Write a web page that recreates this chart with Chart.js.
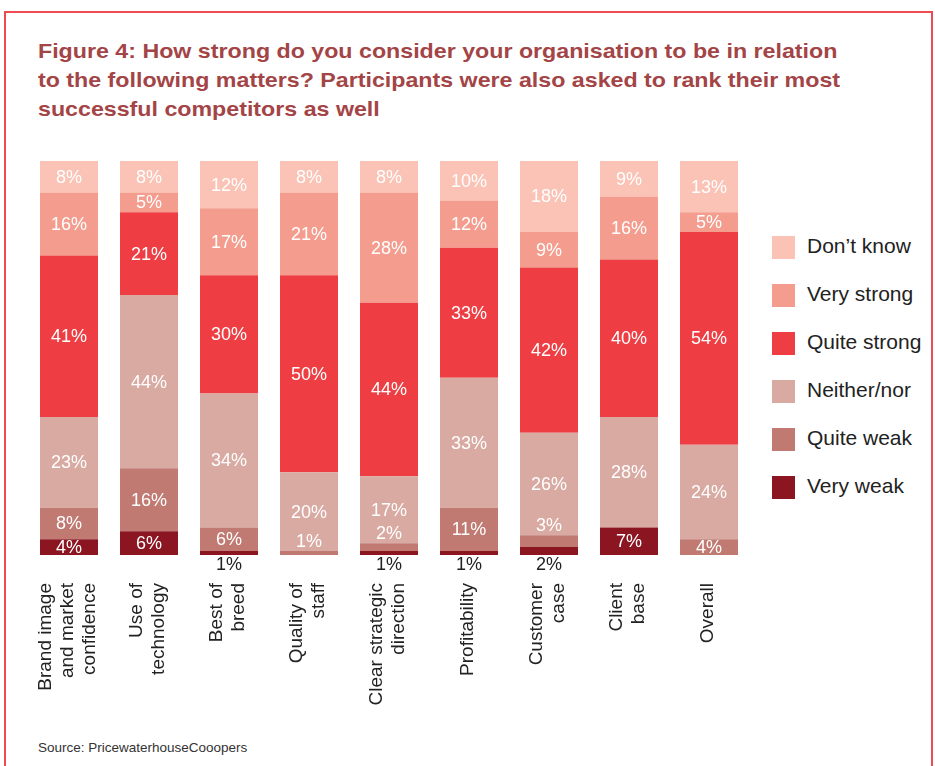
<!DOCTYPE html>
<html lang="en">
<head>
    <meta charset="UTF-8">
    <title>Figure 4</title>
    <script src="https://cdn.jsdelivr.net/npm/chart.js"></script>
    <style>
        html, body {
            margin: 0;
            padding: 0;
            width: 935px;
            height: 766px;
            overflow: hidden;
            background: #fff;
            font-family: "Liberation Sans", Arial, sans-serif;
        }
        .frame {
            position: absolute;
            left: 4px;
            top: 11px;
            width: 925px;
            height: 800px;
            border: 2px solid #ee4a51;
        }
        .title {
            position: absolute;
            left: 38px;
            top: 36px;
            width: 800px;
            font-size: 21px;
            line-height: 29px;
            font-weight: bold;
            color: #a34446;
            white-space: nowrap;
            transform: scaleX(1.105);
            transform-origin: 0 0;
        }
        .chart-container {
            position: absolute;
            left: 0;
            top: 140px;
            width: 760px;
            height: 600px;
        }
        .legend {
            position: absolute;
            left: 772px;
            top: 236px;
        }
        .legend-item {
            height: 48px;
            position: relative;
        }
        .legend-item span.box {
            position: absolute;
            left: 0;
            top: 0;
            width: 23px;
            height: 23px;
        }
        .legend-item span.label {
            position: absolute;
            left: 35px;
            top: -3px;
            font-size: 21px;
            line-height: 25px;
            color: #222;
            white-space: nowrap;
        }
        .source {
            position: absolute;
            left: 38px;
            top: 740px;
            font-size: 13.5px;
            color: #333;
        }
    </style>
</head>
<body>
    <div class="frame"></div>
    <div class="title">Figure 4: How strong do you consider your organisation to be in relation<br>to the following matters? Participants were also asked to rank their most<br>successful competitors as well</div>
    <div class="chart-container">
        <canvas id="strengthChart"></canvas>
    </div>
    <div class="legend" id="legend"></div>
    <div class="source">Source: PricewaterhouseCooopers</div>
    <script>
        var categories = [
            ['Brand image', 'and market', 'confidence'],
            ['Use of', 'technology'],
            ['Best of', 'breed'],
            ['Quality of', 'staff'],
            ['Clear strategic', 'direction'],
            ['Profitability'],
            ['Customer', 'case'],
            ['Client', 'base'],
            ['Overall']
        ];

        // stacked bottom to top, percent of participants
        var veryWeak    = [4, 6, 1, 0, 1, 1, 2, 7, 0];
        var quiteWeak   = [8, 16, 6, 1, 2, 11, 3, 0, 4];
        var neitherNor  = [23, 44, 34, 20, 17, 33, 26, 28, 24];
        var quiteStrong = [41, 21, 30, 50, 44, 33, 42, 40, 54];
        var veryStrong  = [16, 5, 17, 21, 28, 12, 9, 16, 5];
        var dontKnow    = [8, 8, 12, 8, 8, 10, 18, 9, 13];

        var seriesNames = ['Very weak', 'Quite weak', 'Neither/nor', 'Quite strong', 'Very strong', 'Don\u2019t know'];
        var seriesColors = ['#8b1622', '#c07a72', '#d9aaa2', '#ee3e43', '#f49d8e', '#fbc3b5'];
        var seriesData = [veryWeak, quiteWeak, neitherNor, quiteStrong, veryStrong, dontKnow];

        var datasets = seriesData.map(function(values, i) {
            return {
                label: seriesNames[i],
                data: values,
                backgroundColor: seriesColors[i],
                borderWidth: 0,
                categoryPercentage: 0.725,
                barPercentage: 1
            };
        });

        // legend, top item is the top of the stack
        var legendHtml = '';
        for (var i = seriesNames.length - 1; i >= 0; i--) {
            legendHtml += '<div class="legend-item"><span class="box" style="background:' + seriesColors[i] +
                '"></span><span class="label">' + seriesNames[i] + '</span></div>';
        }
        document.getElementById('legend').innerHTML = legendHtml;

        // percentage labels on the segments; tiny ones go above the segment,
        // tiny "very weak" ones go under the bar
        var valueLabels = {
            id: 'valueLabels',
            afterDatasetsDraw: function(chart) {
                var ctx = chart.ctx;
                ctx.save();
                ctx.font = '18px "Liberation Sans", Arial, sans-serif';
                ctx.textAlign = 'center';
                ctx.textBaseline = 'middle';
                chart.data.datasets.forEach(function(ds, di) {
                    var meta = chart.getDatasetMeta(di);
                    meta.data.forEach(function(bar, j) {
                        var v = ds.data[j];
                        if (!v) return;
                        var text = v + '%';
                        if (v >= 4) {
                            ctx.fillStyle = '#fff';
                            ctx.fillText(text, bar.x, (bar.y + bar.base) / 2 + 1);
                        } else if (di === 0) {
                            ctx.fillStyle = '#222';
                            ctx.fillText(text, bar.x, bar.base + 10);
                        } else {
                            ctx.fillStyle = '#fff';
                            ctx.fillText(text, bar.x, bar.y - 9);
                        }
                    });
                });
                ctx.restore();
            }
        };

        // vertical category names, lines centred on the bar
        var categoryLabels = {
            id: 'categoryLabels',
            afterDraw: function(chart) {
                var ctx = chart.ctx;
                var xScale = chart.scales.x;
                var top = chart.chartArea.bottom + 28;
                var lineGap = 22;
                ctx.save();
                ctx.font = '19px "Liberation Sans", Arial, sans-serif';
                ctx.fillStyle = '#222';
                ctx.textAlign = 'right';
                ctx.textBaseline = 'middle';
                categories.forEach(function(lines, i) {
                    var cx = xScale.getPixelForTick(i) - 1;
                    lines.forEach(function(line, k) {
                        var x = cx + (k - (lines.length - 1) / 2) * lineGap;
                        ctx.save();
                        ctx.translate(x, top);
                        ctx.rotate(-Math.PI / 2);
                        ctx.fillText(line, 0, 0);
                        ctx.restore();
                    });
                });
                ctx.restore();
            }
        };

        var ctx = document.getElementById('strengthChart').getContext('2d');
        new Chart(ctx, {
            type: 'bar',
            data: {
                labels: categories,
                datasets: datasets
            },
            options: {
                responsive: true,
                maintainAspectRatio: false,
                animation: false,
                layout: {
                    padding: { left: 29, right: 11, top: 21, bottom: 0 }
                },
                plugins: {
                    legend: { display: false },
                    tooltip: { enabled: false }
                },
                scales: {
                    x: {
                        stacked: true,
                        grid: { display: false, drawTicks: false },
                        border: { display: false },
                        ticks: { display: false },
                        afterFit: function(scale) { scale.height = 185; }
                    },
                    y: {
                        stacked: true,
                        display: false,
                        min: 0,
                        max: 100
                    }
                }
            },
            plugins: [valueLabels, categoryLabels]
        });
    </script>
</body>
</html>
